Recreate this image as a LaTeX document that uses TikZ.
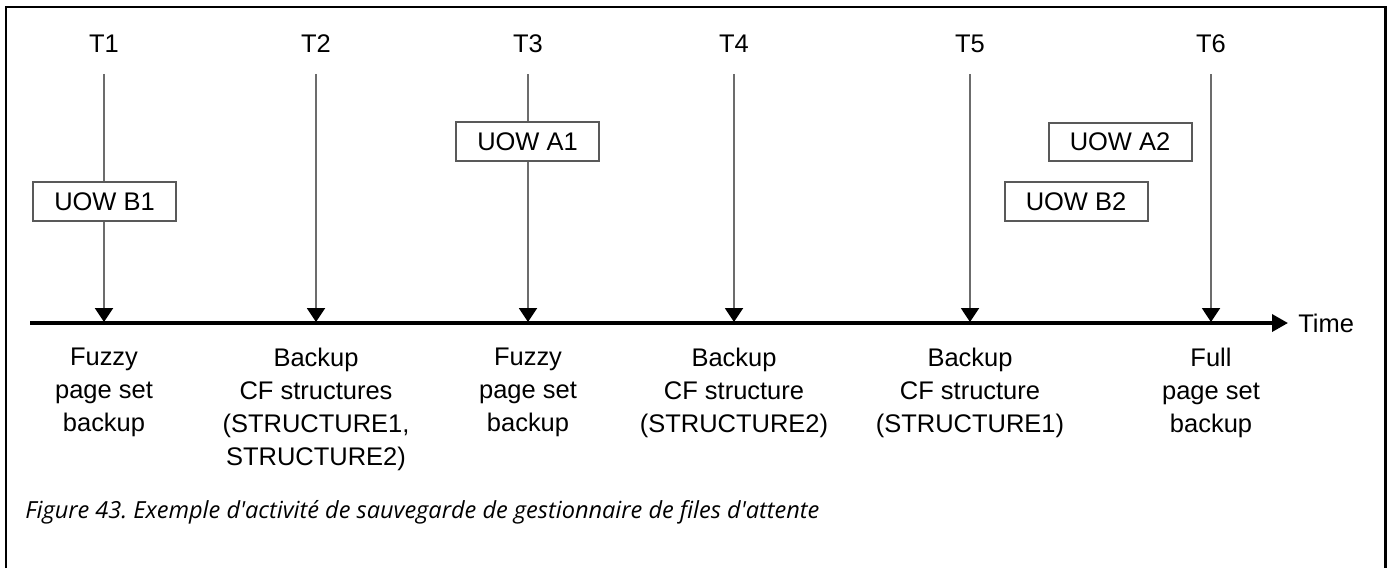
\documentclass[tikz,border=0pt]{standalone}
\usepackage{fontspec}
\setmainfont{Liberation Sans}
\newfontfamily\capfont{Open Sans}
\usetikzlibrary{arrows.meta}
\frenchspacing
\begin{document}
\begin{tikzpicture}[x=0.02cm,y=-0.02cm,
  every node/.style={font=\fontsize{14.5}{18.7}\selectfont},
  tlabel/.style={inner sep=0pt,outer ysep=0.42cm},
  tick/.style={draw=gray!85!black,line width=0.04cm,-{Triangle[width=0.36cm,length=0.28cm,color=black]}},
  axis/.style={line width=0.07cm,-{Triangle[width=0.34cm,length=0.32cm]}},
  uow/.style={draw=gray!70!black,fill=white,line width=0.04cm,minimum width=2.86cm,minimum height=0.78cm,inner sep=0pt},
  lab/.style={align=center,anchor=north,inner sep=0pt}]
\useasboundingbox (0,0) rectangle (1388,568);
\draw[line width=0.06cm] (6,568) -- (6,7) -- (1385,7) -- (1385,568);
% time axis
\coordinate (a0) at (30,323);
\node[anchor=west,inner xsep=0.2cm,inner ysep=0pt] (time) at (1288,323) {Time};
\draw[axis] (a0) -- (time);
% instants
\node[tlabel] (t1) at (104,44) {T1};
\node[tlabel] (t2) at (316,44) {T2};
\node[tlabel] (t3) at (528,44) {T3};
\node[tlabel] (t4) at (734,44) {T4};
\node[tlabel] (t5) at (970,44) {T5};
\node[tlabel] (t6) at (1211,44) {T6};
\coordinate (a1) at (104,322);
\coordinate (a2) at (316,322);
\coordinate (a3) at (528,322);
\coordinate (a4) at (734,322);
\coordinate (a5) at (970,322);
\coordinate (a6) at (1211,322);
\draw[tick] (t1) -- (a1);
\draw[tick] (t2) -- (a2);
\draw[tick] (t3) -- (a3);
\draw[tick] (t4) -- (a4);
\draw[tick] (t5) -- (a5);
\draw[tick] (t6) -- (a6);
% units of work
\node[uow] (uowb1) at (104.5,201.5) {UOW B1};
\node[uow] (uowa1) at (527.5,141.5) {UOW A1};
\node[uow] (uowa2) at (1120,142) {UOW A2};
\node[uow] (uowb2) at (1076,201.5) {UOW B2};
% backups
\node[lab] (lab1) at (104,348) {Fuzzy\\page set\\backup};
\node[lab] (lab2) at (316,348) {Backup\\CF structures\\(STRUCTURE1,\\STRUCTURE2)};
\node[lab] (lab3) at (528,348) {Fuzzy\\page set\\backup};
\node[lab] (lab4) at (734,348) {Backup\\CF structure\\(STRUCTURE2)};
\node[lab] (lab5) at (970,348) {Backup\\CF structure\\(STRUCTURE1)};
\node[lab] (lab6) at (1211,348) {Full\\page set\\backup};
\node[anchor=base west,inner sep=0pt,font=\capfont\itshape\fontsize{13.4}{16}\selectfont] (caption) at (25,518)
  {Figure 43. Exemple d\textquotesingle activité de sauvegarde de gestionnaire de files d\textquotesingle attente};
\end{tikzpicture}
\end{document}
